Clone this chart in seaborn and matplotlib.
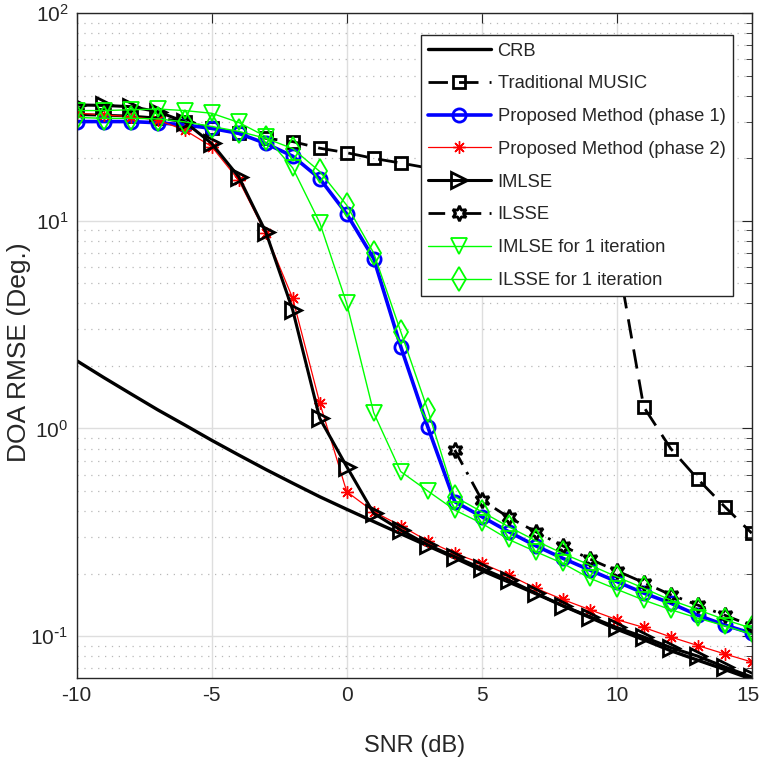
import numpy as np
import matplotlib
matplotlib.use("Agg")
import matplotlib.pyplot as plt
import matplotlib.transforms as mtransforms
import seaborn as sns
from matplotlib.ticker import LogLocator, NullLocator, FixedLocator, FuncFormatter

# SNR grid (dB)
snr = np.arange(-10, 16)

crb = [2.12, 1.76, 1.47, 1.23, 1.04, 0.877, 0.745, 0.635, 0.545, 0.469, 0.408,
       0.356, 0.311, 0.272, 0.238, 0.207, 0.182, 0.160, 0.140, 0.123, 0.108,
       0.096, 0.085, 0.0765, 0.069, 0.062]
music = [32.5, 32.3, 32.0, 31.3, 30.0, 28.0, 26.5, 25.0, 24.1, 22.4, 21.3,
         20.0, 19.0, 18.0, 17.2, 16.4, 15.5, 14.5, 13.2, 11.0, 7.0,
         1.27, 0.80, 0.571, 0.42, 0.313]
phase1 = [30.1, 30.1, 30.1, 29.7, 29.0, 27.9, 26.4, 23.6, 20.5, 16.0, 10.8,
          6.58, 2.48, 1.02, 0.444, 0.376, 0.318, 0.272, 0.237, 0.208, 0.183,
          0.161, 0.144, 0.126, 0.113, 0.103]
phase2 = [33.1, 32.4, 31.8, 30.6, 27.4, 22.8, 15.7, 8.7, 4.24, 1.33, 0.496,
          0.397, 0.340, 0.287, 0.250, 0.224, 0.197, 0.170, 0.150, 0.134, 0.120,
          0.110, 0.099, 0.090, 0.082, 0.075]
imlse = [36.2, 36.0, 35.5, 33.6, 30.0, 23.6, 16.3, 8.86, 3.72, 1.12, 0.655,
         0.39, 0.324, 0.275, 0.241, 0.212, 0.186, 0.161, 0.140, 0.124, 0.110,
         0.099, 0.088, 0.080, 0.071, 0.0635]
ilsse_snr = np.arange(4, 16)
ilsse = [0.787, 0.453, 0.373, 0.318, 0.272, 0.235, 0.206, 0.181, 0.158,
         0.141, 0.126, 0.112]
imlse_1 = [34.0, 34.0, 34.3, 34.6, 34.0, 33.0, 29.8, 25.5, 18.0, 9.8, 4.0,
           1.19, 0.62, 0.50, 0.405, 0.349, 0.292, 0.255, 0.224, 0.190, 0.168,
           0.149, 0.134, 0.122, 0.112, 0.102]
ilsse_1 = [31.5, 31.2, 31.2, 31.0, 30.0, 28.5, 27.0, 25.0, 22.3, 17.3, 11.9,
           7.0, 2.93, 1.23, 0.469, 0.397, 0.336, 0.288, 0.250, 0.220, 0.193,
           0.170, 0.149, 0.134, 0.120, 0.109]

x_ticks = [-10, -5, 0, 5, 10, 15]

sns.set_style("white")
plt.rcParams["font.family"] = ["Liberation Sans", "DejaVu Sans"]
plt.rcParams["mathtext.default"] = "regular"
plt.rcParams["axes.unicode_minus"] = False

fig = plt.figure(figsize=(7.61, 7.61), dpi=100)
ax = fig.add_axes([0.1008, 0.1091, 0.887, 0.8734])

edge = "#262626"
green = (0, 1, 0)

sns.lineplot(x=snr, y=crb, ax=ax, color="black", lw=2.4, label="CRB")
sns.lineplot(x=snr, y=music, ax=ax, color="black", lw=2.0, ls=(0, (7, 4)),
             marker="s", markersize=8.5, markerfacecolor="none",
             markeredgecolor="black", markeredgewidth=2.0,
             label="Traditional MUSIC")
sns.lineplot(x=snr, y=phase1, ax=ax, color="blue", lw=2.6,
             marker="o", markersize=9.5, markerfacecolor="none",
             markeredgecolor="blue", markeredgewidth=2.0,
             label="Proposed Method (phase 1)")
sns.lineplot(x=snr, y=phase2, ax=ax, color="red", lw=0.9,
             marker=(8, 2, 0), markersize=9, markerfacecolor="none",
             markeredgecolor="red", markeredgewidth=1.0,
             label="Proposed Method (phase 2)")
sns.lineplot(x=snr, y=imlse, ax=ax, color="black", lw=2.2,
             marker=">", markersize=11, markerfacecolor="none",
             markeredgecolor="black", markeredgewidth=2.0,
             label="IMLSE")
sns.lineplot(x=ilsse_snr, y=ilsse, ax=ax, color="black", lw=2.0,
             ls=(0, (6, 3, 1, 3)),
             marker=(6, 1, 0), markersize=11, markerfacecolor="none",
             markeredgecolor="black", markeredgewidth=2.0,
             label="ILSSE")
sns.lineplot(x=snr, y=imlse_1, ax=ax, color=green, lw=1.0,
             marker="v", markersize=11, markerfacecolor="none",
             markeredgecolor=green, markeredgewidth=1.3,
             label="IMLSE for 1 iteration")
sns.lineplot(x=snr, y=ilsse_1, ax=ax, color=green, lw=1.0,
             marker="d", markersize=12, markerfacecolor="none",
             markeredgecolor=green, markeredgewidth=1.3,
             label="ILSSE for 1 iteration")

ax.set_yscale("log")
ax.set_xlim(-10, 15)
ax.set_ylim(0.0628, 100)
ax.xaxis.set_major_locator(FixedLocator(x_ticks))
ax.xaxis.set_minor_locator(NullLocator())
ax.yaxis.set_major_locator(LogLocator(base=10))
ax.yaxis.set_minor_locator(LogLocator(base=10, subs=np.arange(2, 10)))


def decade_label(v, pos):
    e = int(round(np.log10(v)))
    if e < 0:
        return "$10^{\\text{-}%d}$" % (-e)
    return "$10^{%d}$" % e


ax.yaxis.set_major_formatter(FuncFormatter(decade_label))

ax.grid(True, which="major", color="#dedede", lw=1.0, ls="-")
ax.grid(True, which="minor", axis="y", color="#b8b8b8", lw=0.9, ls=(0, (1, 4.5)))
ax.set_axisbelow(True)

for sp in ax.spines.values():
    sp.set_color(edge)
    sp.set_linewidth(1.0)
ax.tick_params(which="both", direction="in", top=True, right=True,
               colors=edge, labelcolor=edge)
ax.tick_params(which="major", length=7, labelsize=15, pad=6)
ax.tick_params(which="minor", length=4)

ax.set_xlabel("SNR (dB)", fontsize=17, color=edge)
ax.set_ylabel("DOA RMSE (Deg.)", fontsize=19, color=edge)
ax.xaxis.set_label_coords(0.5, -0.086)
ax.yaxis.set_label_coords(-0.068, 0.49)

leg = ax.legend(loc="upper right", bbox_to_anchor=(0.972, 0.967),
                fontsize=13.2, frameon=True, fancybox=False, framealpha=1,
                edgecolor=edge, labelspacing=0.86, borderpad=0.4,
                handlelength=3.4, handletextpad=0.38, borderaxespad=0)
leg.get_frame().set_linewidth(1.0)

# keep the last x tick label inside the canvas
last = ax.get_xticklabels()[-1]
last.set_transform(last.get_transform() +
                   mtransforms.ScaledTranslation(-3 / 72, 0, fig.dpi_scale_trans))

fig.savefig("out.png", dpi=100)
